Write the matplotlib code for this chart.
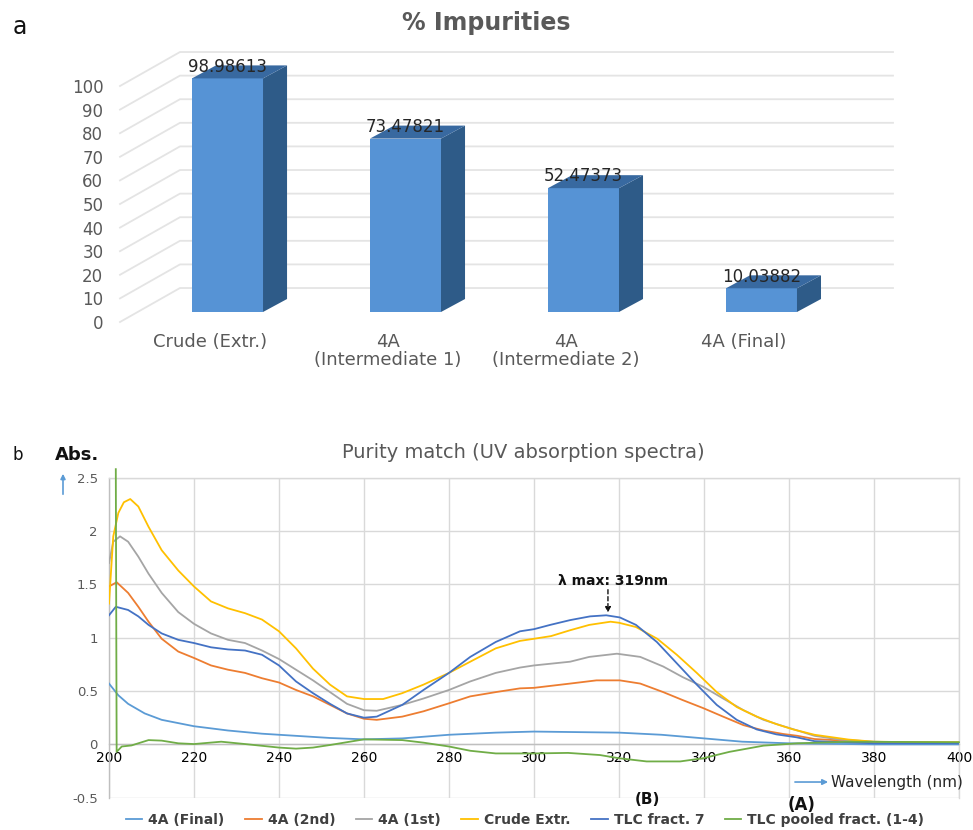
import matplotlib
matplotlib.use("Agg")
import matplotlib.pyplot as plt
from matplotlib.patches import Polygon
from matplotlib.lines import Line2D

plt.rcParams['font.family'] = ['DejaVu Sans']

# ---------------- data: panel a ----------------
categories = ["Crude (Extr.)", "4A\n(Intermediate 1)", "4A\n(Intermediate 2)", "4A (Final)"]
impurities = [98.98613, 73.47821, 52.47373, 10.03882]
value_labels = ["98.98613", "73.47821", "52.47373", "10.03882"]
y_ticks_a = list(range(0, 101, 10))

# ---------------- data: panel b ----------------
wl_final = [200, 202.2, 204.5, 208.4, 212.4, 220, 228, 236, 244, 252, 260, 269, 280, 291, 300, 320, 330, 340, 349, 360, 380, 400]
abs_final = [0.57, 0.46, 0.38, 0.29, 0.23, 0.17, 0.13, 0.10, 0.08, 0.06, 0.047, 0.056, 0.09, 0.11, 0.12, 0.11, 0.09, 0.056, 0.025, 0.01, 0.0, 0.0]

wl_2nd = [200, 201.8, 204.5, 206.9, 209.3, 212.4, 216.3, 220, 224, 228, 232, 236, 240, 244, 248, 252, 256, 260, 263, 269, 274, 280, 285, 291, 296.7, 300, 308.5, 314.7, 320.2, 325, 330.4, 335, 339.8, 344.5, 349.3, 354, 358.7, 362, 366, 380, 400]
abs_2nd = [1.48, 1.52, 1.42, 1.29, 1.15, 0.99, 0.87, 0.81, 0.74, 0.70, 0.67, 0.62, 0.58, 0.51, 0.45, 0.37, 0.29, 0.24, 0.23, 0.26, 0.31, 0.385, 0.45, 0.49, 0.525, 0.53, 0.57, 0.60, 0.60, 0.57, 0.49, 0.415, 0.34, 0.26, 0.18, 0.13, 0.097, 0.08, 0.05, 0.02, 0.015]

wl_1st = [200, 201, 202.6, 204.5, 206.9, 209.3, 212.4, 216.3, 220, 224, 228, 232, 236, 240, 244, 248, 252, 256, 260, 263, 269, 274, 280, 285, 291, 296.7, 300, 308.5, 313, 319.5, 325, 330.4, 335, 339.8, 344.5, 349.3, 354, 358.7, 362, 366, 372, 380, 390, 400]
abs_1st = [1.70, 1.90, 1.95, 1.90, 1.76, 1.60, 1.42, 1.24, 1.13, 1.04, 0.98, 0.95, 0.88, 0.80, 0.70, 0.60, 0.49, 0.38, 0.32, 0.315, 0.37, 0.43, 0.51, 0.59, 0.67, 0.72, 0.74, 0.775, 0.82, 0.85, 0.82, 0.73, 0.63, 0.54, 0.43, 0.32, 0.23, 0.17, 0.13, 0.08, 0.045, 0.025, 0.015, 0.015]

wl_crude = [200, 201, 202.2, 203.5, 205, 206.9, 209.3, 212.4, 216.3, 220, 224, 228, 232, 236, 240, 244, 248, 252, 256, 260, 264.5, 269, 274, 280, 285, 291, 296.7, 300, 304, 308.5, 313, 318, 320, 324, 329, 333.6, 338.3, 343, 347.7, 352.4, 357, 361, 366, 374, 380, 390, 400]
abs_crude = [1.32, 1.95, 2.17, 2.27, 2.30, 2.23, 2.04, 1.82, 1.63, 1.48, 1.34, 1.275, 1.23, 1.17, 1.06, 0.90, 0.71, 0.56, 0.45, 0.425, 0.425, 0.48, 0.56, 0.67, 0.775, 0.90, 0.97, 0.99, 1.015, 1.07, 1.12, 1.15, 1.14, 1.10, 0.99, 0.84, 0.67, 0.49, 0.35, 0.26, 0.19, 0.14, 0.09, 0.045, 0.025, 0.02, 0.02]

wl_tlc7 = [200, 201.6, 204.5, 206.9, 209.3, 212.4, 216.3, 220, 224, 228, 232, 236, 240, 244, 248, 252, 256, 260, 263, 269, 274, 280, 285, 291, 296.7, 300, 303.8, 308.5, 313.2, 317, 320.2, 324, 328.9, 333.6, 338.3, 343, 347.7, 352.4, 357, 361.8, 366, 380, 400]
abs_tlc7 = [1.21, 1.29, 1.26, 1.20, 1.12, 1.04, 0.98, 0.95, 0.91, 0.89, 0.88, 0.84, 0.74, 0.59, 0.48, 0.38, 0.29, 0.25, 0.26, 0.37, 0.51, 0.67, 0.82, 0.96, 1.06, 1.08, 1.12, 1.165, 1.20, 1.21, 1.19, 1.12, 0.96, 0.76, 0.56, 0.37, 0.23, 0.14, 0.094, 0.066, 0.03, 0.01, 0.01]

wl_pool = [201.6, 201.8, 203, 205.3, 209.3, 212.4, 216.3, 220, 226.4, 232, 240, 244, 248, 252, 260, 269, 274, 280, 285, 291, 300, 308, 315.5, 320, 326.5, 334.4, 339.8, 346, 354, 362, 374, 400]
abs_pool = [2.58, -0.07, -0.02, -0.01, 0.04, 0.035, 0.01, 0.003, 0.025, 0.003, -0.03, -0.04, -0.03, -0.006, 0.047, 0.04, 0.016, -0.02, -0.06, -0.085, -0.085, -0.08, -0.10, -0.13, -0.16, -0.16, -0.13, -0.07, -0.012, 0.01, 0.025, 0.02]

series_names = ["4A (Final)", "4A (2nd)", "4A (1st)", "Crude Extr.", "TLC fract. 7", "TLC pooled fract. (1-4)"]
series_colors = ["#5B9BD5", "#ED7D31", "#A5A5A5", "#FFC000", "#4472C4", "#70AD47"]
x_ticks_b = list(range(200, 401, 20))
y_ticks_b = [-0.5, 0, 0.5, 1, 1.5, 2, 2.5]
y_ticklabels_b = ["-0.5", "0", "0.5", "1", "1.5", "2", "2.5"]

W, H = 973, 830
fig = plt.figure(figsize=(W / 100, H / 100), dpi=100)

def fx(px):
    return px / W

def fy(py):
    return 1 - py / H

GRAY = "#595959"

# ================= panel a (3-D style columns) =================
axa = fig.add_axes([fx(120), fy(322), fx(893) - fx(120), fy(50.6) - fy(322)])
XL, XR = -0.505, 3.838
YMAX = 115
axa.set_xlim(XL, XR)
axa.set_ylim(0, YMAX)
for s in axa.spines.values():
    s.set_visible(False)

WALL_DX, WALL_DY = 0.337, 14.4
BAR_OFF_X, BAR_OFF_Y = 0.099, 4.24
BAR_W, BAR_DX, BAR_DY = 0.399, 0.135, 5.5

for v in y_ticks_a:
    axa.plot([XL, XL + WALL_DX, XR], [v, v + WALL_DY, v + WALL_DY],
             color="#E4E4E4", lw=1.3, zorder=1, clip_on=False)

front_c = "#5693D5"
side_c = "#2E5B88"
top_c = "#3869A0"
for i, v in enumerate(impurities):
    xc = i + BAR_OFF_X
    x0, x1 = xc - BAR_W / 2, xc + BAR_W / 2
    b = BAR_OFF_Y
    axa.bar(xc, v, width=BAR_W, bottom=b, color=front_c, zorder=3, linewidth=0)
    side = Polygon([(x1, b), (x1 + BAR_DX, b + BAR_DY), (x1 + BAR_DX, b + v + BAR_DY), (x1, b + v)],
                   closed=True, facecolor=side_c, edgecolor="none", zorder=3)
    top = Polygon([(x0, b + v), (x1, b + v), (x1 + BAR_DX, b + v + BAR_DY), (x0 + BAR_DX, b + v + BAR_DY)],
                  closed=True, facecolor=top_c, edgecolor="none", zorder=3)
    axa.add_patch(side)
    axa.add_patch(top)
    axa.text(xc, v + 9.2, value_labels[i], ha="center", va="center",
             fontsize=12, color="#262626", zorder=5)

axa.set_yticks(y_ticks_a)
axa.set_yticklabels([str(t) for t in y_ticks_a], fontsize=12, color=GRAY)
axa.set_xticks(range(len(categories)))
axa.set_xticklabels(categories, fontsize=13, color=GRAY, linespacing=1.0)
axa.tick_params(axis="both", length=0)
axa.tick_params(axis="y", pad=12)
axa.tick_params(axis="x", pad=8)

fig.text(fx(13), fy(27), "a", fontsize=17, ha="left", va="center", color="#111111")
fig.text(fx(486), fy(23), "% Impurities", fontsize=17, fontweight="bold",
         ha="center", va="center", color=GRAY)

# ================= panel b (UV spectra) =================
axb = fig.add_axes([fx(109), fy(797.7), fx(959) - fx(109), fy(477.7) - fy(797.7)])
axb.set_xlim(200, 400)
axb.set_ylim(-0.5, 2.5)
axb.set_xticks(x_ticks_b)
axb.set_xticklabels([str(t) for t in x_ticks_b], fontsize=9.5, color=GRAY)
axb.set_yticks(y_ticks_b)
axb.set_yticklabels(y_ticklabels_b, fontsize=9.5, color=GRAY)
axb.tick_params(axis="both", length=0)
axb.tick_params(axis="y", pad=8)
axb.tick_params(axis="x", pad=5)
axb.grid(True, color="#D9D9D9", lw=1)
axb.set_axisbelow(True)
axb.spines["bottom"].set_position(("data", 0))
axb.spines["bottom"].set_color("#BFBFBF")
axb.spines["left"].set_color("#BFBFBF")
axb.spines["top"].set_color("#D9D9D9")
axb.spines["right"].set_color("#D9D9D9")
for s in axb.spines.values():
    s.set_linewidth(1)

all_wl = [wl_final, wl_2nd, wl_1st, wl_crude, wl_tlc7, wl_pool]
all_abs = [abs_final, abs_2nd, abs_1st, abs_crude, abs_tlc7, abs_pool]
handles = []
for wl, ab, name, col in zip(all_wl, all_abs, series_names, series_colors):
    ln, = axb.plot(wl, ab, color=col, lw=1.3, label=name, zorder=3,
                   clip_on=(name != "TLC pooled fract. (1-4)"))
    handles.append(ln)

# annotations
axb.text(318.5, 1.53, "λ max: 319nm", fontsize=10, fontweight="bold",
         ha="center", va="center", color="#111111")
axb.annotate("", xy=(317.4, 1.235), xytext=(317.4, 1.45),
             arrowprops=dict(arrowstyle="-|>", color="#111111", lw=1, linestyle=(0, (3, 2)),
                             mutation_scale=8, shrinkA=0, shrinkB=0))
axb.annotate("", xy=(369.2, -0.353), xytext=(361.4, -0.353),
             arrowprops=dict(arrowstyle="-|>", color="#5B9BD5", lw=1.2,
                             mutation_scale=8, shrinkA=0, shrinkB=0), annotation_clip=False)
axb.text(369.8, -0.353, "Wavelength (nm)", fontsize=11, ha="left", va="center", color="#262626")
axb.text(326.6, -0.515, "(B)", fontsize=11, fontweight="bold", ha="center", va="center",
         color="#111111", clip_on=False)
axb.text(363.0, -0.565, "(A)", fontsize=12, fontweight="bold", ha="center", va="center",
         color="#111111", clip_on=False)

fig.text(fx(13), fy(455), "b", fontsize=12, ha="left", va="center", color="#111111")
fig.text(fx(55), fy(455), "Abs.", fontsize=13, fontweight="bold", ha="left", va="center", color="#111111")
fig.text(fx(523), fy(452), "Purity match (UV absorption spectra)", fontsize=14,
         ha="center", va="center", color=GRAY)
fig.add_artist(matplotlib.patches.FancyArrowPatch(
    (fx(63), fy(497)), (fx(63), fy(471)), transform=fig.transFigure,
    arrowstyle="-|>", mutation_scale=7, color="#5B9BD5", lw=1.2))

leg = fig.legend(handles=handles, loc="center", bbox_to_anchor=(fx(525), fy(820)),
                 ncol=6, frameon=False, handlelength=1.2, handletextpad=0.45,
                 columnspacing=1.45, borderpad=0,
                 prop={"size": 10, "weight": "bold"})
for t in leg.get_texts():
    t.set_color("#404040")

fig.savefig("out.png", dpi=100, facecolor="white")
